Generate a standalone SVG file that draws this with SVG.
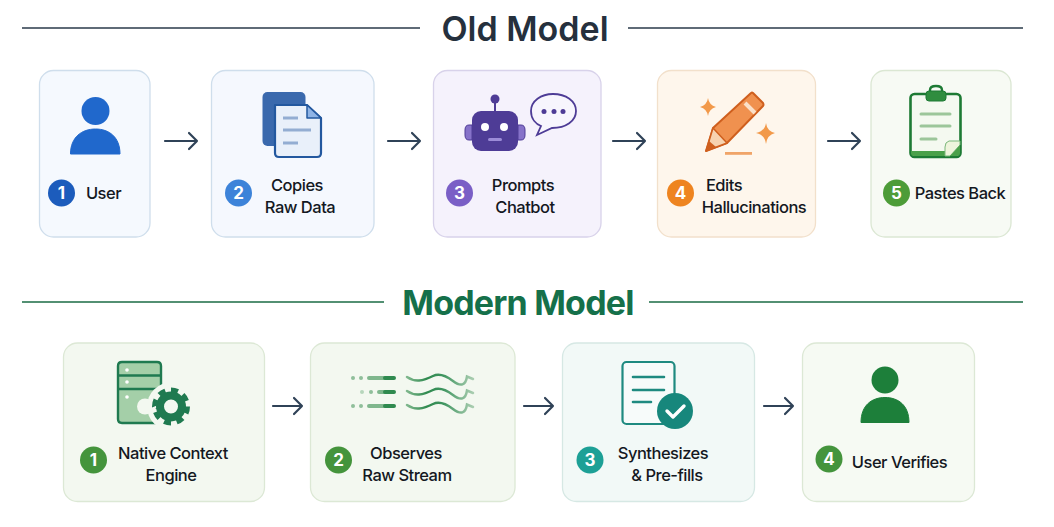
<svg xmlns="http://www.w3.org/2000/svg" width="1054" height="527" viewBox="0 0 1054 527">
<defs><linearGradient id="wg" gradientUnits="userSpaceOnUse" x1="407" y1="0" x2="473" y2="0"><stop offset="0" stop-color="#7fb78d"/><stop offset=".3" stop-color="#2f8a4f"/><stop offset=".55" stop-color="#3f9560"/><stop offset="1" stop-color="#a9cdb0"/></linearGradient></defs>
<style>
text{font-family:"Inter","Liberation Sans",sans-serif}
.t{font-size:34px;font-weight:700;text-anchor:middle}
.l{font-size:16.5px;font-weight:500;fill:#14181f;text-anchor:middle;letter-spacing:-.5px}
.n{font-size:17px;font-weight:700;fill:#fff;text-anchor:middle}
.c{stroke-width:1.3}
.a{fill:none;stroke:#2f4257;stroke-width:2.2;stroke-linecap:round;stroke-linejoin:round}
</style>
<rect width="1054" height="527" fill="#fff"/>
<g id="old-title"><line x1="22" y1="28" x2="420" y2="28" stroke="#2a3a4a" stroke-width="1.6"/><line x1="628" y1="28" x2="1023" y2="28" stroke="#2a3a4a" stroke-width="1.6"/><text class="t" x="525" y="41" fill="#25303d" style="font-weight:600">Old Model</text></g>
<g id="modern-title"><line x1="22" y1="302" x2="384" y2="302" stroke="#1a6b45" stroke-width="1.6"/><line x1="649" y1="302" x2="1023" y2="302" stroke="#1a6b45" stroke-width="1.6"/><text class="t" x="518" y="315" fill="#15704a" style="letter-spacing:-.8px">Modern Model</text></g>
<g id="connectors">
<path class="a" d="M165 141H197M189 133L197 141L189 149"/>
<path class="a" d="M388 141H420M412 133L420 141L412 149"/>
<path class="a" d="M613 141H645M637 133L645 141L637 149"/>
<path class="a" d="M828 141H860M852 133L860 141L852 149"/>
<path class="a" d="M273 406H302M294 398L302 406L294 414"/>
<path class="a" d="M524 406H553M545 398L553 406L545 414"/>
<path class="a" d="M764 406H793M785 398L793 406L785 414"/>
</g>
<g id="old-1">
<rect class="c" x="39.500" y="70.500" width="110.500" height="166.500" rx="14" fill="#f5f9fe" stroke="#cfdeec"/>
<circle cx="95.500" cy="111" r="14" fill="#2068cc"/><path d="M70.500 154C70.500 137 82 129 95.500 129C109 129 120 137 120 154Z" fill="#2068cc" stroke="#2068cc" stroke-linejoin="round"/>
<circle cx="61.500" cy="193" r="13.500" fill="#1c5cbc"/><text class="n" x="61.500" y="199">1</text>
<text class="l" x="103.500" y="199">User</text>
</g>
<g id="old-2">
<rect class="c" x="211.500" y="70.500" width="162.500" height="166.500" rx="14" fill="#f5f8fe" stroke="#cfdeec"/>
<rect x="262.500" y="92" width="43" height="54" rx="5" fill="#3a69ad"/>
<path d="M275 105H307L321 118V153Q321 157 317 157H279Q275 157 275 153Z" fill="#e9f0fa" stroke="#23589f" stroke-width="2.200" stroke-linejoin="round"/>
<path d="M307 105V118H321Z" fill="#8fb4e6" stroke="#23589f" stroke-width="1.500" stroke-linejoin="round"/>
<path d="M283 118H298M283 130H311M283 143H298" stroke="#93add2" stroke-width="3"/>
<circle cx="238.500" cy="193" r="13.500" fill="#3d83d9"/><text class="n" x="238.500" y="199">2</text>
<text class="l" x="297" y="191">Copies</text><text class="l" x="300" y="213">Raw Data</text>
</g>
<g id="old-3">
<rect class="c" x="433.500" y="70.500" width="167.500" height="166.500" rx="14" fill="#f5f2fc" stroke="#d8d2ea"/>
<path d="M472 125H469Q465 125 465 130V135Q465 140 469 140H472ZM518 125H521Q525 125 525 130V135Q525 140 521 140H518Z" fill="#8672c9" stroke="#4e3c96"/>
<line x1="495" y1="100" x2="495" y2="112" stroke="#4e3c96" stroke-width="2"/><circle cx="495" cy="99" r="4.500" fill="#4e3c96"/>
<rect x="472" y="111" width="46" height="40" rx="9" fill="#4e3c96"/>
<circle cx="485" cy="127" r="4" fill="#fff"/><circle cx="504" cy="127" r="4" fill="#fff"/><rect x="488" y="138" width="14" height="3" rx="1.500" fill="#9c8cd8"/>
<path d="M553 94C541 94 531 101 531 111C531 119 536 124 541 126L537 135L552 128C566 128 576 121 576 111C576 101 566 94 553 94Z" fill="#f7f5fd" stroke="#4e3c96" stroke-width="1.800"/>
<circle cx="544" cy="111.500" r="2.500" fill="#4e3c96"/><circle cx="554" cy="111.500" r="2.500" fill="#4e3c96"/><circle cx="563" cy="111.500" r="2.500" fill="#4e3c96"/>
<circle cx="459.500" cy="193" r="13.500" fill="#7a5fc6"/><text class="n" x="459.500" y="199">3</text>
<text class="l" x="523" y="191">Prompts</text><text class="l" x="525" y="213">Chatbot</text>
</g>
<g id="old-4">
<rect class="c" x="657.500" y="70.500" width="158" height="166.500" rx="14" fill="#fef6ec" stroke="#f2e0cb"/>
<path d="M706 151L713 128L751 93Q752 92 753 93L763 103Q764 105 763 106L727 143Z" fill="#f0914f" stroke="#cf5f1e" stroke-width="2" stroke-linejoin="round"/>
<path d="M706 151L713 128L727 143Z" fill="#f7d3b0" stroke="#cf5f1e" stroke-width="1.500" stroke-linejoin="round"/>
<path d="M706 151L709 141L716 147Z" fill="#cf5f1e"/>
<path d="M745 103L755 113" stroke="#fbe0c8" stroke-width="4"/>
<path d="M708 98Q709 105 716 107Q709 109 708 116Q707 109 700 107Q707 105 708 98ZM766 123Q767 131 775 133Q767 135 766 144Q765 135 756 133Q765 131 766 123Z" fill="#f2994a"/>
<rect x="725" y="152" width="27" height="2.800" fill="#f0a468"/>
<circle cx="680.500" cy="193" r="13.500" fill="#ee8420"/><text class="n" x="680.500" y="199">4</text>
<text class="l" x="724" y="191">Edits</text><text class="l" x="754" y="213">Hallucinations</text>
</g>
<g id="old-5">
<rect class="c" x="871" y="70.500" width="140" height="166.500" rx="14" fill="#f7faf4" stroke="#dbe7d3"/>
<rect x="910.500" y="94" width="50" height="63" rx="4" fill="#f4f9f0" stroke="#1d7a34" stroke-width="2.600"/>
<path d="M911 151H945V156H914Q911 156 911 153Z" fill="#4aa04a"/>
<path d="M945 156V147Q945 142 949 141H960V145L950 156Z" fill="#eef4dc" stroke="#7ab77a"/>
<path d="M950 156L960 145V153Q960 156 957 156Z" fill="#4aa04a"/>
<path d="M930 91V90Q930 86 936 86Q942 86 942 90V91" fill="none" stroke="#1d7a34" stroke-width="2.400"/>
<rect x="926" y="91" width="20" height="10" rx="3" fill="#2f8d3f" stroke="#1d7a34"/>
<path d="M921 114H950M921 126H950M921 139H936" stroke="#9cc69a" stroke-width="3" stroke-linecap="round"/>
<circle cx="896.500" cy="193" r="13.500" fill="#4d9c38"/><text class="n" x="896.500" y="199">5</text>
<text class="l" x="960" y="199">Pastes Back</text>
</g>
<g id="modern-1">
<rect class="c" x="63.500" y="343" width="201" height="158.500" rx="14" fill="#f3f8f0" stroke="#dce8d5"/>
<path d="M122 362H157Q161 362 161 366V423H122Q118 423 118 419V366Q118 362 122 362Z" fill="#a4cfa8" stroke="#1f7a50" stroke-width="2.400"/>
<path d="M118 375.500H161M118 389H161" stroke="#1f7a50" stroke-width="2.400"/>
<circle cx="127" cy="370" r="1.800" fill="#fff"/><circle cx="127" cy="382" r="1.800" fill="#fff"/><circle cx="127" cy="397" r="1.800" fill="#fff"/>
<circle cx="171" cy="406.500" r="24" fill="#f3f8f0"/><circle cx="145" cy="406.500" r="8" fill="#f3f8f0"/>
<circle cx="171" cy="406.500" r="11" fill="none" stroke="#1f7a50" stroke-width="8"/>
<circle cx="171" cy="406.500" r="16.500" fill="none" stroke="#1f7a50" stroke-width="5" pathLength="80" stroke-dasharray="5.500 4.500"/>
<circle cx="93.500" cy="460" r="13.500" fill="#44943c"/><text class="n" x="93.500" y="466">1</text>
<text class="l" x="173" y="459">Native Context</text><text class="l" x="171" y="481">Engine</text>
</g>
<g id="modern-2">
<rect class="c" x="310.500" y="343" width="204.500" height="158.500" rx="14" fill="#f3f8f0" stroke="#dce8d5"/>
<g fill="#8fbf9a"><circle cx="353" cy="378" r="2"/><circle cx="361" cy="378" r="2"/><circle cx="362" cy="392" r="2" opacity=".6"/><circle cx="371" cy="392" r="2"/><circle cx="353" cy="406" r="2"/><circle cx="361" cy="406" r="2"/></g>
<path d="M369 378H385M379 392H385M369 406H385" stroke="#7fb78d" stroke-width="4" stroke-linecap="round"/>
<path d="M385 378H394M385 392H394M385 406H394" stroke="#2f8a4f" stroke-width="4" stroke-linecap="round"/>
<path d="M407 377Q413 381 419 380.500T433 376T453 381T467 376.500L473 379M407 391Q413 395 419 394.500T433 390T453 395T467 390.500L473 393M407 405Q413 409 419 408.500T433 404T453 409T467 404.500L473 407" fill="none" stroke="url(#wg)" stroke-width="2.500" stroke-linecap="round"/>
<circle cx="338.500" cy="460" r="13.500" fill="#44943c"/><text class="n" x="338.500" y="466">2</text>
<text class="l" x="406" y="459">Observes</text><text class="l" x="407" y="481">Raw Stream</text>
</g>
<g id="modern-3">
<rect class="c" x="562.500" y="343" width="192" height="158.500" rx="14" fill="#f2f9f7" stroke="#d6e8e4"/>
<rect x="622.500" y="362" width="52" height="62" rx="4" fill="#f7fbfa" stroke="#1f8a80" stroke-width="2.200"/>
<path d="M633 377H664M633 390H664M633 402H651" stroke="#1f8a80" stroke-width="2.600" stroke-linecap="round"/>
<circle cx="675" cy="411" r="18" fill="#17877c"/>
<path d="M667 411L673 417L684 406" fill="none" stroke="#fff" stroke-width="3.400" stroke-linecap="round" stroke-linejoin="round"/>
<circle cx="590" cy="460" r="13.500" fill="#1da096"/><text class="n" x="590" y="466">3</text>
<text class="l" x="663" y="459">Synthesizes</text><text class="l" x="667" y="481">&amp; Pre-fills</text>
</g>
<g id="modern-4">
<rect class="c" x="802.500" y="343" width="172" height="158.500" rx="14" fill="#f6faf3" stroke="#dce8d5"/>
<circle cx="885" cy="380" r="13.500" fill="#1d7f3a"/><path d="M861 422.500C861 405 872 397.500 885 397.500C898 397.500 909 405 909 422.500Z" fill="#1d7f3a" stroke="#1d7f3a" stroke-linejoin="round"/>
<circle cx="829" cy="459" r="13.500" fill="#44943c"/><text class="n" x="829" y="465">4</text>
<text class="l" x="899.500" y="468">User Verifies</text>
</g>
</svg>
